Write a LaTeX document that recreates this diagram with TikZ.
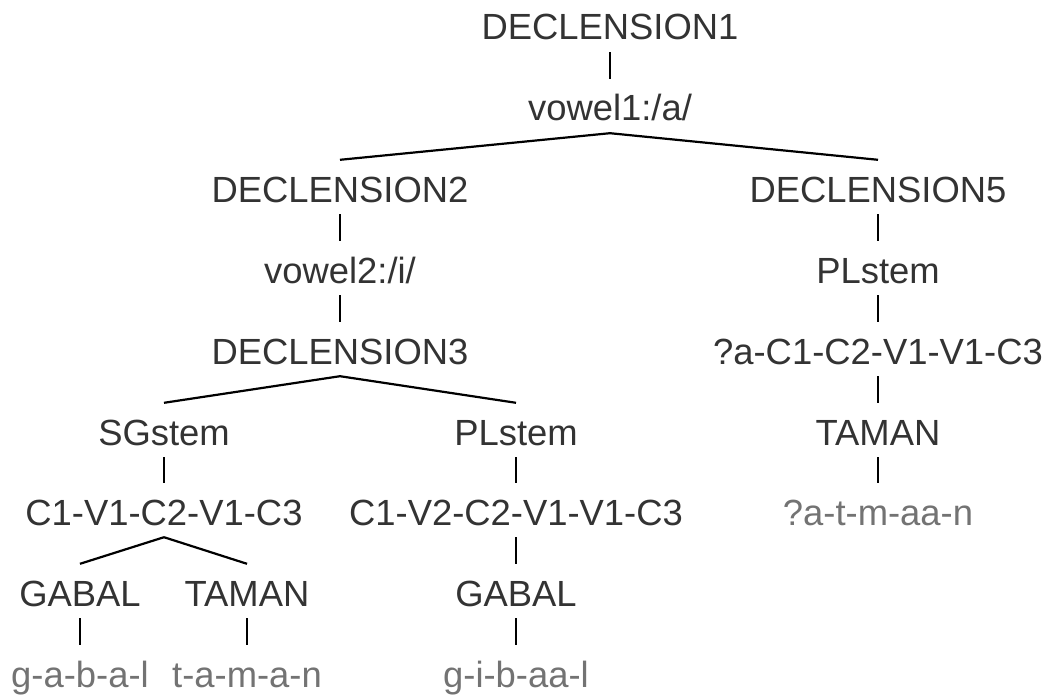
\documentclass[tikz,border=0pt]{standalone}
\usepackage{fontspec}
\setmainfont{Liberation Sans}
\tikzset{
  lab/.style={anchor=base, inner sep=0pt, text height=42pt, text depth=12pt,
    text=black!80, font=\fontsize{36.4}{40}\selectfont},
  leaf/.style={lab, text=black!55},
  stick/.style={line width=1.1pt},
  branch/.style={line width=2.2pt},
}
\begin{document}
\begin{tikzpicture}[x=1pt, y=-1pt]
\useasboundingbox (0,0) rectangle (1052,698);
% top of the tree
\node[lab] (d1) at (610,40) {DECLENSION1};
\node[lab] (v1) at (610,121) {vowel1:/a/};
\node[lab] (d2) at (340,202) {DECLENSION2};
\node[lab] (d5) at (878,202) {DECLENSION5};
% left part
\node[lab] (v2) at (340,283) {vowel2:/i/};
\node[lab] (d3) at (340,364) {DECLENSION3};
\node[lab] (sg3) at (164,445) {SGstem};
\node[lab] (pl3) at (516,445) {PLstem};
\node[lab] (patsg) at (164,525) {C1-V1-C2-V1-C3};
\node[lab] (patpl) at (516,525) {C1-V2-C2-V1-V1-C3};
\node[lab] (gabsg) at (80,606) {GABAL};
\node[lab] (tamsg) at (247,606) {TAMAN};
\node[lab] (gabpl) at (516,606) {GABAL};
\node[leaf] (outgab) at (80,687) {g-a-b-a-l};
\node[leaf] (outtam) at (247,687) {t-a-m-a-n};
\node[leaf] (outpl) at (516,687) {g-i-b-aa-l};
% right part
\node[lab] (pl5) at (878,283) {PLstem};
\node[lab] (pat5) at (878,364) {?a-C1-C2-V1-V1-C3};
\node[lab] (tam5) at (878,445) {TAMAN};
\node[leaf] (out5) at (878,525) {?a-t-m-aa-n};
% edges
\foreach \a/\b in {d1/v1,d2/v2,v2/d3,sg3/patsg,pl3/patpl,patpl/gabpl,
    gabpl/outpl,gabsg/outgab,tamsg/outtam,d5/pl5,pl5/pat5,pat5/tam5,tam5/out5}
{
    \draw[stick] (\a.south)--(\b.north);
}
\foreach \a/\b in {v1/d2,v1/d5,d3/sg3,d3/pl3,patsg/gabsg,patsg/tamsg}
{
    \draw[branch] (\a.south)--(\b.north);
}
\end{tikzpicture}
\end{document}
